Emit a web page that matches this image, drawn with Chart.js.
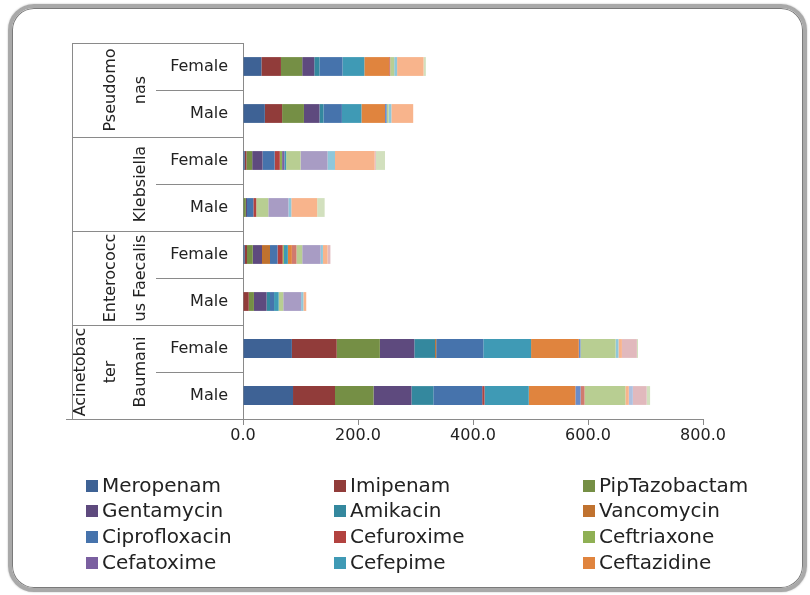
<!DOCTYPE html>
<html lang="en">
<head>
<meta charset="UTF-8">
<title>Antibiotic use by organism and sex</title>
<script src="https://cdn.jsdelivr.net/npm/chart.js"></script>
<style>
  body { margin: 0; background: #fff; }
  .frame {
    position: absolute; left: 8px; top: 4px; width: 791px; height: 580px;
    border: 4px solid #a9a9a9; border-radius: 26px;
    box-shadow: inset 0 0 0 1px #7a7a7a, 0 0 2px #bbb;
  }
  #chart { position: absolute; left: 0; top: 0; }
</style>
</head>
<body>
<div class="frame"></div>
<canvas id="chart" width="810" height="595"></canvas>
<script>
// rows, top to bottom
const rowLabels = ['Female', 'Male', 'Female', 'Male', 'Female', 'Male', 'Female', 'Male'];
// organism names, wrapped the way they sit in the label column
const groupLines = [['Pseudomo', 'nas'], ['Klebsiella'], ['Enterococc', 'us Faecalis'], ['Acinetobac', 'ter', 'Baumani']];
const xTicks = [0, 200, 400, 600, 800];

const meropenam     = [32, 38, 3, 1, 3, 0, 85, 87];
const imipenam      = [34, 30, 3, 0, 4, 10, 78, 73];
const pipTazobactam = [37, 38, 10, 4, 10, 9, 75, 67];
const gentamycin    = [21, 27, 18, 2, 16, 22, 60, 66];
const amikacin      = [9, 7, 0, 0, 0, 6, 36, 38];
const vancomycin    = [0, 0, 0, 0, 14, 0, 2, 0];
const ciprofloxacin = [40, 32, 21, 11, 13, 7, 82, 85];
const cefuroxime    = [0, 0, 9, 5, 9, 0, 0, 4];
const ceftriaxone   = [0, 0, 4, 0, 2, 0, 0, 0];
const cefatoxime    = [0, 0, 4, 0, 0, 0, 0, 0];
const cefepime      = [38, 34, 3, 0, 7, 8, 83, 77];
const ceftazidine   = [43, 41, 0, 0, 7, 0, 83, 81];
const series13      = [0, 3, 0, 0, 0, 0, 3, 9];
const series14      = [2, 0, 0, 0, 8, 0, 0, 7];
const series15      = [7, 3, 25, 21, 10, 8, 61, 71];
const series16      = [0, 0, 47, 35, 32, 31, 0, 0];
const series17      = [5, 5, 13, 5, 4, 4, 5, 0];
const series18      = [46, 38, 69, 45, 8, 5, 6, 6];
const series19      = [0, 0, 0, 0, 0, 0, 0, 7];
const series20      = [0, 0, 2, 0, 5, 0, 26, 24];
const series21      = [4, 0, 16, 13, 0, 0, 2, 6];

const series = [
    ['Meropenam', meropenam, '#3e6295'],
    ['Imipenam', imipenam, '#913c3a'],
    ['PipTazobactam', pipTazobactam, '#758f45'],
    ['Gentamycin', gentamycin, '#5e4a7e'],
    ['Amikacin', amikacin, '#34889e'],
    ['Vancomycin', vancomycin, '#c0722f'],
    ['Ciprofloxacin', ciprofloxacin, '#4673ac'],
    ['Cefuroxime', cefuroxime, '#b2423f'],
    ['Ceftriaxone', ceftriaxone, '#8fb054'],
    ['Cefatoxime', cefatoxime, '#7a5fa0'],
    ['Cefepime', cefepime, '#3f9ab5'],
    ['Ceftazidine', ceftazidine, '#e0843e'],
    ['Series 13', series13, '#6a8cc8'],
    ['Series 14', series14, '#d07a6e'],
    ['Series 15', series15, '#b8ce92'],
    ['Series 16', series16, '#a89cc4'],
    ['Series 17', series17, '#8fc7da'],
    ['Series 18', series18, '#f8b48c'],
    ['Series 19', series19, '#afc0de'],
    ['Series 20', series20, '#e1b9bd'],
    ['Series 21', series21, '#d2e0be']
];
const legendCount = 12;

const lineColor = '#8a8a8a';
const textColor = '#222';
const font = '"DejaVu Sans", sans-serif';

// category frame lines, rotated organism names and the three-column legend
const categoryFrame = {
    id: 'categoryFrame',
    afterDraw(chart) {
        const ctx = chart.ctx;
        const y = chart.scales.y;
        const area = chart.chartArea;
        const step = y.getPixelForValue(1) - y.getPixelForValue(0);

        ctx.save();
        ctx.strokeStyle = lineColor;
        ctx.lineWidth = 1;
        for (let i = 0; i <= rowLabels.length; i++) {
            const py = Math.round(y.getPixelForValue(i) - step / 2) + 0.5;
            let x0 = i % 2 === 0 ? 72 : 156;
            if (i === rowLabels.length) x0 = 66;
            ctx.beginPath();
            ctx.moveTo(x0, py);
            ctx.lineTo(area.left, py);
            ctx.stroke();
        }
        ctx.beginPath();
        ctx.moveTo(72.5, area.top);
        ctx.lineTo(72.5, area.bottom);
        ctx.stroke();

        ctx.fillStyle = textColor;
        ctx.font = '16px ' + font;
        ctx.textAlign = 'center';
        ctx.textBaseline = 'middle';
        groupLines.forEach((lines, g) => {
            const cy = (y.getPixelForValue(2 * g) + y.getPixelForValue(2 * g + 1)) / 2;
            lines.forEach((t, k) => {
                const cx = 141 - (lines.length - 1 - k) * 30;
                ctx.save();
                ctx.translate(cx, cy);
                ctx.rotate(-Math.PI / 2);
                ctx.fillText(t, 0, 0);
                ctx.restore();
            });
        });

        // legend
        const colX = [86, 334, 583];
        const rowY = [486, 511, 537, 563];
        ctx.font = '20px ' + font;
        ctx.textAlign = 'left';
        for (let i = 0; i < legendCount; i++) {
            const ds = chart.data.datasets[i];
            const lx = colX[i % 3];
            const ly = rowY[Math.floor(i / 3)];
            ctx.fillStyle = ds.backgroundColor;
            ctx.fillRect(lx, ly - 6, 12, 12);
            ctx.fillStyle = textColor;
            ctx.fillText(ds.label, lx + 16, ly + 1);
        }
        ctx.restore();
    }
};

new Chart(document.getElementById('chart'), {
    type: 'bar',
    data: {
        labels: rowLabels,
        datasets: series.map(([label, data, color]) => ({
            label: label,
            data: data,
            backgroundColor: color,
            borderWidth: 0,
            categoryPercentage: 1,
            barPercentage: 0.4
        }))
    },
    options: {
        responsive: false,
        animation: false,
        indexAxis: 'y',
        layout: { padding: { top: 43, right: 107, bottom: 0, left: 0 } },
        plugins: { legend: { display: false }, tooltip: { enabled: false } },
        scales: {
            x: {
                stacked: true,
                min: xTicks[0],
                max: xTicks[xTicks.length - 1],
                ticks: {
                    stepSize: 200,
                    callback: v => v.toFixed(1),
                    color: textColor,
                    font: { family: font, size: 16 },
                    padding: 1,
                    maxRotation: 0
                },
                grid: { drawOnChartArea: false, tickLength: 6, color: lineColor },
                border: { color: lineColor },
                afterFit: s => { s.height = 176; }
            },
            y: {
                stacked: true,
                ticks: { color: textColor, font: { family: font, size: 16 }, padding: 15 },
                grid: { drawOnChartArea: false, drawTicks: false },
                border: { color: lineColor },
                afterFit: s => { s.width = 243; }
            }
        }
    },
    plugins: [categoryFrame]
});
</script>
</body>
</html>
